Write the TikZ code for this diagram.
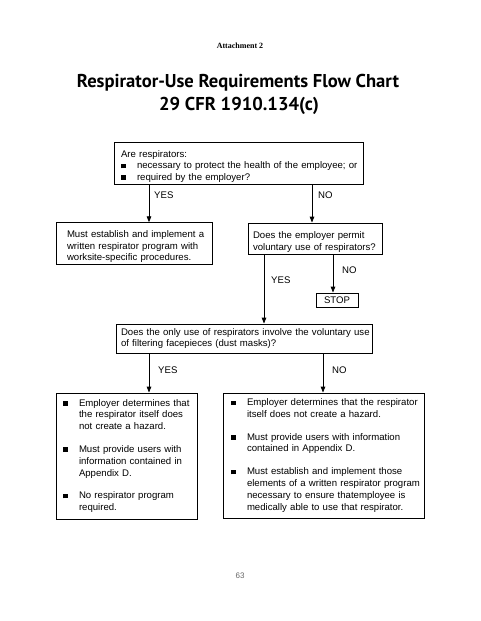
\documentclass[tikz,border=0pt]{standalone}
\usepackage{fontspec}
\setmainfont{Liberation Sans}
\newfontfamily\titlefont{PT Sans}
\newfontfamily\headfont{Liberation Serif}
\usetikzlibrary{arrows.meta}
\setlength{\parindent}{0pt}
\setlength{\lineskip}{0pt}
\newcommand\bsq{\rule[0.4pt]{4.6pt}{4.6pt}}
\newcommand\lns[1]{\begin{tabular}[t]{@{}l@{}}#1\end{tabular}}
\newcommand\bitem[1]{\noindent\hbox to 16pt{\bsq\hfil}\lns{#1}\par}
\newcommand\pgap{\vskip10pt\relax}
\newcommand\topgap[1]{\vskip#1\relax}
\begin{document}
\begin{tikzpicture}[x=1pt,y=-1pt,
  box/.style={draw=black,line width=0.9pt,align=left,inner ysep=0pt,
    font=\fontsize{9.6}{11.5}\selectfont},
  bigbox/.style={box,font=\fontsize{9.6}{11.8}\selectfont},
  arr/.style={line width=0.9pt,-{Triangle[length=6pt,width=4.6pt]}},
  lab/.style={font=\fontsize{9.6}{11.5}\selectfont,anchor=west,inner sep=0pt}]
\useasboundingbox (0,0) rectangle (480,621);

\node[anchor=base,inner sep=0pt,font=\headfont\bfseries\fontsize{8}{9}\selectfont] (att) at (240,48) {Attachment 2};
\node[anchor=base,inner sep=0pt,font=\titlefont\bfseries\fontsize{18.6}{22}\selectfont] (t1) at (238,87) {Respirator-Use Requirements Flow Chart};
\node[anchor=base,inner sep=0pt,font=\titlefont\bfseries\fontsize{18.6}{22}\selectfont] (t2) at (239,110) {29 CFR 1910.134(c)};

\node[box,text width=235pt,inner xsep=7pt,minimum height=42pt] (q1) at (238.5,163)
  {\topgap{3.5pt}\lns{Are respirators:}\par
   \bitem{necessary to protect the health of the employee; or}%
   \bitem{required by the employer?}};

\node[box,text width=134pt,inner xsep=11pt,minimum height=41pt] (prog) at (134,243.5)
  {\topgap{3.6pt}\lns{Must establish and implement a\\written respirator program with\\worksite-specific procedures.}};

\node[box,text width=124pt,inner xsep=5pt,minimum height=31pt] (vol) at (315,238.5)
  {\topgap{3.6pt}\lns{Does the employer permit\\voluntary use of respirators?}};

\node[draw=black,line width=0.9pt,inner sep=0pt,minimum width=42pt,minimum height=14pt,
  font=\fontsize{9.6}{11.5}\selectfont] (stop) at (337,300) {STOP};

\node[box,text width=246pt,inner xsep=5pt,minimum height=29pt,
  font=\fontsize{9.6}{10.8}\selectfont] (dust) at (244,338.5)
  {\lns{Does the only use of respirators involve the voluntary use\\of filtering facepieces (dust masks)?}};

\node[bigbox,text width=127pt,inner xsep=7pt,minimum height=126pt] (yesbox) at (126.5,456)
  {\bitem{Employer determines that\\the respirator itself does\\not create a hazard.}\pgap
   \bitem{Must provide users with\\information contained in\\Appendix D.}\pgap
   \bitem{No respirator program\\required.}};

\node[bigbox,text width=185pt,inner xsep=8pt,minimum height=125pt] (nobox) at (323.5,455.5)
  {\bitem{Employer determines that the respirator\\itself does not create a hazard.}\pgap
   \bitem{Must provide users with information\\contained in Appendix D.}\pgap
   \bitem{Must establish and implement those\\elements of a written respirator program\\necessary to ensure thatemployee is\\medically able to use that respirator.}};

\coordinate (x1) at (149,0);
\coordinate (x2) at (312,0);
\coordinate (x3) at (264,0);
\coordinate (x4) at (333,0);
\coordinate (x6) at (323,0);

\draw[arr] (q1.south -| x1) -- (prog.north -| x1);
\draw[arr] (q1.south -| x2) -- (vol.north -| x2);
\draw[arr] (vol.south -| x3) -- (dust.north -| x3);
\draw[arr] (vol.south -| x4) -- (stop.north -| x4);
\draw[arr] (dust.south -| x1) -- (yesbox.north -| x1);
\draw[arr] (dust.south -| x6) -- (nobox.north -| x6);

\node[lab] (y1) at (154,195) {YES};
\node[lab] (n1) at (318,195) {NO};
\node[lab] (y2) at (271,280.5) {YES};
\node[lab] (n2) at (342,270) {NO};
\node[lab] (y3) at (158,370) {YES};
\node[lab] (n3) at (332,370) {NO};

\node[anchor=base,inner sep=0pt,font=\fontsize{8}{9}\selectfont,text=black!60] (pg) at (240,578) {63};
\end{tikzpicture}
\end{document}
